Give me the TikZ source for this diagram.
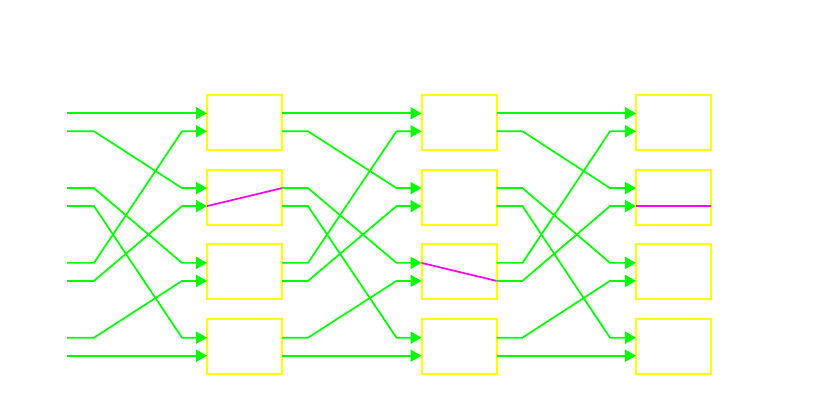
\documentclass[tikz,border=0pt]{standalone}
\usepackage{tikz}
\usetikzlibrary{arrows.meta,calc,positioning}
\definecolor{wiregreen}{RGB}{0,255,0}
\definecolor{boxyellow}{RGB}{255,255,0}
\definecolor{setmagenta}{RGB}{255,0,255}

\begin{document}
\begin{tikzpicture}[x=1pt,y=1pt,
  swbox/.style={draw=boxyellow,line width=2pt,minimum width=75pt,minimum height=55pt,inner sep=0pt,outer sep=0pt},
  wire/.style={draw=wiregreen,line width=1.7pt,-{Triangle[length=11pt,width=12pt]}},
  setline/.style={draw=setmagenta,line width=1.7pt}]
\useasboundingbox (0,0) rectangle (835,418);
\foreach \c/\x in {1/244.5,2/459,3/673.5}{
  \foreach \r in {0,1,2,3}{
    \pgfmathtruncatemacro{\pa}{2*\r}
    \pgfmathtruncatemacro{\pb}{2*\r+1}
    \node[swbox] (b\c\r) at (\x,{295.7-74.8*\r}) {};
    \coordinate (in\c-\pa) at ($(b\c\r.west)+(0,9)$);
    \coordinate (in\c-\pb) at ($(b\c\r.west)+(0,-9)$);
    \coordinate (out\c-\pa) at ($(b\c\r.east)+(0,9)$);
    \coordinate (out\c-\pb) at ($(b\c\r.east)+(0,-9)$);
  }
}
\foreach \p in {0,...,7}
  \coordinate (src-\p) at ($(in1-\p)+(-140,0)$);
% shuffle wiring between the stages
\foreach \p in {0,...,7}{
  \pgfmathtruncatemacro{\d}{\p<4 ? 2*\p : 2*\p-7}
  \draw[wire] (src-\p) -- ++(27,0) -- ($(in1-\d)+(-25,0)$) -- (in1-\d);
  \draw[wire] (out1-\p) -- ++(26,0) -- ($(in2-\d)+(-25,0)$) -- (in2-\d);
  \draw[wire] (out2-\p) -- ++(26,0) -- ($(in3-\d)+(-26,0)$) -- (in3-\d);
}
\draw[setline] (in1-3) -- (out1-2);
\draw[setline] (in2-4) -- (out2-5);
\draw[setline] (in3-3) -- (out3-3);
\end{tikzpicture}
\end{document}
